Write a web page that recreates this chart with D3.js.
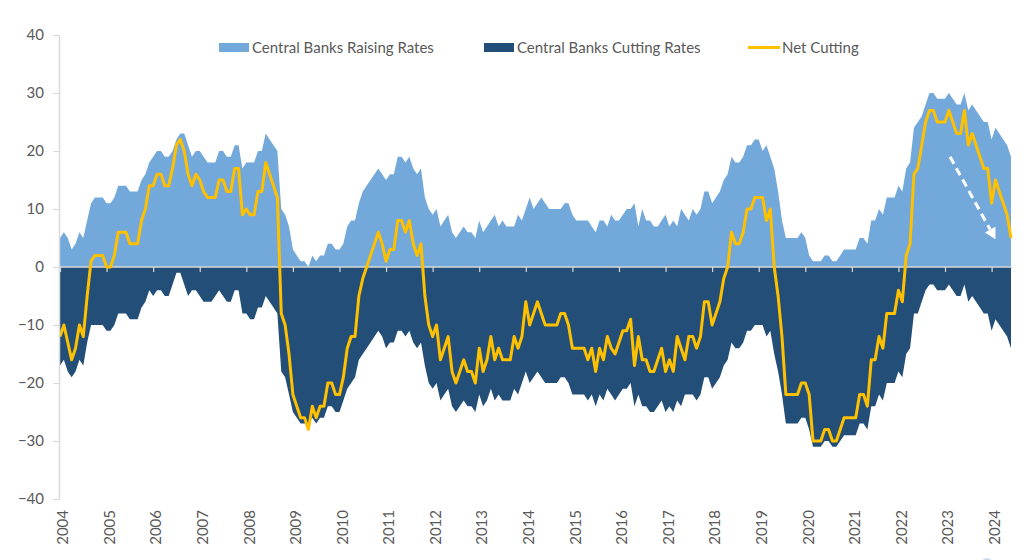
<!DOCTYPE html>
<html>
<head>
<meta charset="utf-8">
<script src="https://cdn.jsdelivr.net/npm/d3@7"></script>
<style>
  html, body { margin: 0; padding: 0; background: #ffffff; }
  svg { display: block; font-family: Lato, "Open Sans", sans-serif; }
</style>
</head>
<body>
<svg id="chart" width="1030" height="560"></svg>
<script>
// ---- Data: monthly, Jan 2004 .. Jun 2024 ----
const years = ["2004","2005","2006","2007","2008","2009","2010","2011","2012","2013","2014",
               "2015","2016","2017","2018","2019","2020","2021","2022","2023","2024"];
const yTicks = [-40, -30, -20, -10, 0, 10, 20, 30, 40];
const seriesNames = ["Central Banks Raising Rates", "Central Banks Cutting Rates", "Net Cutting"];

const raising = [
  5,6,5,3,4,6,5,8,11,12,12,12,
  11,11,12,14,14,14,13,13,13,15,16,18,
  19,20,20,19,19,20,22,23,23,21,19,20,
  20,19,18,18,18,20,20,19,19,21,21,17,
  18,18,18,20,20,23,22,21,20,10,9,7,
  3,2,1,1,0,2,1,2,2,4,4,3,
  3,4,7,8,8,11,13,14,15,16,17,16,
  15,16,16,19,19,18,19,17,16,17,12,10,
  9,10,7,8,9,6,5,6,7,6,6,5,
  8,6,7,8,9,7,8,7,7,7,9,8,
  10,12,10,11,12,11,10,10,10,10,11,11,
  9,8,8,8,8,7,6,8,8,7,9,8,
  8,9,10,10,11,7,10,8,8,7,7,8,
  9,7,8,7,10,9,8,10,9,10,13,13,
  11,12,13,15,16,19,18,18,19,21,21,22,
  22,20,21,19,17,13,8,5,5,5,5,6,
  5,2,1,1,1,2,2,1,1,2,3,3,
  3,3,5,5,4,8,8,10,9,12,12,12,
  14,13,17,18,24,25,26,28,30,30,29,29,
  29,30,29,28,28,30,27,28,27,26,25,25,
  22,24,23,22,21,19
];

const cutting = [
  -17,-16,-18,-19,-18,-16,-17,-13,-10,-10,-10,-10,
  -11,-11,-10,-8,-8,-8,-9,-9,-9,-7,-6,-4,
  -5,-4,-4,-5,-5,-3,-1,-1,-3,-5,-4,-4,
  -5,-6,-6,-6,-5,-4,-5,-6,-6,-4,-4,-8,
  -8,-9,-9,-7,-7,-5,-6,-7,-8,-18,-19,-22,
  -25,-26,-27,-27,-27,-26,-27,-26,-26,-24,-24,-25,
  -25,-23,-21,-20,-19,-16,-15,-14,-13,-12,-11,-12,
  -14,-13,-13,-11,-11,-12,-11,-13,-14,-13,-17,-20,
  -21,-20,-23,-22,-21,-24,-25,-24,-23,-24,-24,-25,
  -22,-24,-23,-21,-23,-22,-23,-23,-23,-21,-22,-20,
  -18,-20,-19,-18,-19,-20,-20,-20,-20,-19,-19,-20,
  -22,-22,-22,-22,-23,-22,-24,-22,-23,-21,-22,-23,
  -22,-21,-21,-20,-24,-22,-24,-24,-25,-25,-24,-23,
  -25,-24,-25,-23,-24,-22,-22,-22,-23,-22,-19,-19,
  -21,-20,-19,-17,-16,-13,-14,-14,-13,-11,-11,-10,
  -10,-10,-12,-11,-15,-18,-22,-27,-27,-27,-27,-26,
  -26,-28,-31,-31,-31,-30,-30,-31,-31,-30,-29,-29,
  -29,-29,-27,-27,-28,-24,-24,-22,-23,-20,-20,-20,
  -18,-19,-15,-14,-8,-8,-6,-4,-3,-3,-4,-4,
  -4,-3,-4,-5,-5,-3,-6,-5,-6,-7,-8,-8,
  -11,-9,-10,-11,-12,-14
];

const netCutting = [
  -12,-10,-13,-16,-14,-10,-12,-5,1,2,2,2,
  0,0,2,6,6,6,4,4,4,8,10,14,
  14,16,16,14,14,17,21,22,20,16,14,16,
  15,13,12,12,12,15,15,13,13,17,17,9,
  10,9,9,13,13,18,16,14,12,-8,-10,-15,
  -22,-24,-26,-26,-28,-24,-26,-24,-24,-20,-20,-22,
  -22,-19,-14,-12,-12,-5,-2,0,2,4,6,4,
  1,3,3,8,8,6,8,4,2,4,-5,-10,
  -12,-10,-16,-14,-12,-18,-20,-18,-16,-18,-18,-20,
  -14,-18,-16,-12,-16,-14,-16,-16,-16,-12,-14,-12,
  -6,-10,-8,-6,-8,-10,-10,-10,-10,-8,-8,-10,
  -14,-14,-14,-14,-16,-14,-18,-14,-16,-12,-14,-15,
  -13,-11,-11,-9,-17,-12,-16,-16,-18,-18,-16,-14,
  -18,-16,-18,-12,-14,-16,-12,-12,-14,-12,-6,-6,
  -10,-8,-6,-2,0,6,4,4,6,10,10,12,
  12,12,8,10,0,-5,-12,-22,-22,-22,-22,-20,
  -20,-22,-30,-30,-30,-28,-28,-30,-30,-28,-26,-26,
  -26,-26,-22,-22,-24,-16,-16,-12,-14,-8,-8,-8,
  -4,-6,2,4,16,17,21,25,27,27,25,25,
  25,27,25,23,23,27,21,23,21,19,17,17,
  11,15,13,11,9,5
];

// annotation arrow (month index, value)
const arrowFrom = [229.3, 19];
const arrowTo = [241, 4.8];

// ---- Layout ----
const svg = d3.select("#chart");
const n = raising.length;
const x = d3.scaleLinear().domain([0, n - 1]).range([60, 1011]);
const y = d3.scaleLinear().domain([-40, 40]).range([499, 35]);

const colRaise = "#72a8da";
const colCut = "#224e77";
const colNet = "#ffc000";
const axisCol = "#d9d9d9";
const textCol = "#595959";

const idx = d3.range(n);

// areas
svg.append("path")
  .datum(idx)
  .attr("fill", colRaise)
  .attr("d", d3.area().x(i => x(i)).y0(y(0)).y1(i => y(raising[i])));

svg.append("path")
  .datum(idx)
  .attr("fill", colCut)
  .attr("d", d3.area().x(i => x(i)).y0(y(0)).y1(i => y(cutting[i])));

// zero line axis with ticks at each January
const xAxis = d3.axisBottom(x)
  .tickValues(d3.range(0, n, 12))
  .tickSize(5)
  .tickSizeOuter(0)
  .tickFormat("");
const gx0 = svg.append("g").attr("transform", `translate(0,${y(0)})`).call(xAxis);
gx0.select(".domain").attr("stroke", axisCol).attr("stroke-width", 1.5)
  .attr("d", `M59,0H1012`);
gx0.selectAll(".tick line").attr("stroke", axisCol).attr("stroke-width", 1.2);

// year labels (rotated) at the bottom
svg.append("g").selectAll("text")
  .data(years)
  .join("text")
  .attr("transform", (d, k) => `translate(${x(k * 12) + 3},510) rotate(-90)`)
  .attr("text-anchor", "end")
  .attr("dy", "0.35em")
  .attr("fill", textCol)
  .attr("font-size", 15)
  .text(d => d);

// net line
svg.append("path")
  .datum(idx)
  .attr("fill", "none")
  .attr("stroke", colNet)
  .attr("stroke-width", 3)
  .attr("stroke-linejoin", "round")
  .attr("d", d3.line().x(i => x(i)).y(i => y(netCutting[i])));

// y axis
const yAxis = d3.axisLeft(y).tickValues(yTicks).tickSize(6).tickSizeOuter(0).tickPadding(9);
const gy = svg.append("g").attr("transform", "translate(59,0)").call(yAxis);
gy.select(".domain").attr("stroke", axisCol).attr("stroke-width", 1.5);
gy.selectAll(".tick line").attr("stroke", axisCol).attr("stroke-width", 1.2);
gy.selectAll(".tick text").attr("fill", textCol).attr("font-size", 15)
  .attr("font-family", "Lato, 'Open Sans', sans-serif");

// dashed arrow annotation
const ax1 = x(arrowFrom[0]), ay1 = y(arrowFrom[1]);
const ax2 = x(arrowTo[0]), ay2 = y(arrowTo[1]);
const ang = Math.atan2(ay2 - ay1, ax2 - ax1);
const headLen = 11, headW = 6;
const bx = ax2 - headLen * Math.cos(ang), by = ay2 - headLen * Math.sin(ang);
svg.append("line")
  .attr("x1", ax1).attr("y1", ay1).attr("x2", bx).attr("y2", by)
  .attr("stroke", "#ffffff").attr("stroke-width", 3)
  .attr("stroke-dasharray", "8,5");
svg.append("path")
  .attr("fill", "#ffffff")
  .attr("d", `M${ax2},${ay2}L${bx + headW * Math.sin(ang)},${by - headW * Math.cos(ang)}L${bx - headW * Math.sin(ang)},${by + headW * Math.cos(ang)}Z`);

// legend
const lg = svg.append("g").attr("font-size", 15).attr("fill", textCol);
lg.append("rect").attr("x", 219).attr("y", 43).attr("width", 30).attr("height", 9).attr("fill", colRaise);
lg.append("text").attr("x", 252).attr("y", 53).attr("fill", textCol).text(seriesNames[0]);
lg.append("rect").attr("x", 484).attr("y", 43).attr("width", 30).attr("height", 9).attr("fill", colCut);
lg.append("text").attr("x", 517).attr("y", 53).attr("fill", textCol).text(seriesNames[1]);
lg.append("line").attr("x1", 748).attr("x2", 780).attr("y1", 47.5).attr("y2", 47.5)
  .attr("stroke", colNet).attr("stroke-width", 3);
lg.append("text").attr("x", 782).attr("y", 53).attr("fill", textCol).text(seriesNames[2]);

// small partial logo mark at bottom right
svg.append("circle").attr("cx", 987).attr("cy", 564).attr("r", 6).attr("fill", "#c9dcef");
</script>
</body>
</html>
